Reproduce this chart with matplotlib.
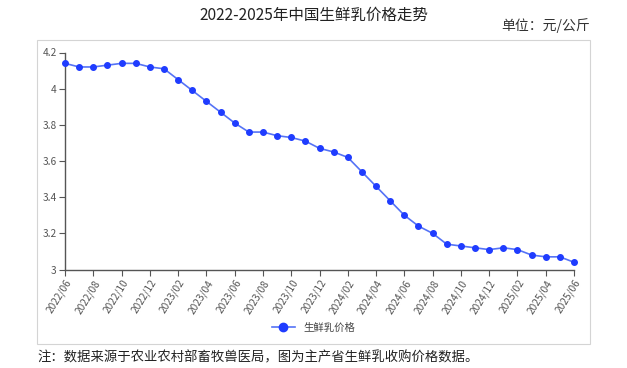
import matplotlib
matplotlib.use('Agg')
import matplotlib.pyplot as plt
from matplotlib.patches import Rectangle
from matplotlib.lines import Line2D

plt.rcParams['font.family'] = ['Noto Sans CJK SC', 'DejaVu Sans']

# Monthly fresh milk price, 2022/06 - 2025/06 (yuan/kg)
months = []
for y in (2022, 2023, 2024, 2025):
    for m in range(1, 13):
        if (y, m) >= (2022, 6) and (y, m) <= (2025, 6):
            months.append('%d/%02d' % (y, m))
prices = [
    4.14, 4.12, 4.12, 4.13, 4.14, 4.14, 4.12, 4.11, 4.05, 3.99,
    3.93, 3.87, 3.81, 3.76, 3.76, 3.74, 3.73, 3.71, 3.67, 3.65,
    3.62, 3.54, 3.46, 3.38, 3.30, 3.24, 3.20, 3.14, 3.13, 3.12,
    3.11, 3.12, 3.11, 3.08, 3.07, 3.07, 3.04,
]
yticks = [3, 3.2, 3.4, 3.6, 3.8, 4, 4.2]
ytick_labels = ['3', '3.2', '3.4', '3.6', '3.8', '4', '4.2']

title = '2022-2025年中国生鲜乳价格走势'
unit = '单位：元/公斤'
series_name = '生鲜乳价格'
note = '注：数据来源于农业农村部畜牧兽医局，图为主产省生鲜乳收购价格数据。'

W, H = 627, 368
fig = plt.figure(figsize=(W / 100, H / 100), dpi=100)

# light grey frame around the chart area
fig.patches.append(Rectangle((37 / W, 1 - 344 / H), (590 - 37) / W,
                             (344 - 40) / H, transform=fig.transFigure,
                             fill=False, edgecolor='#d4d4d4', lw=0.8))

ax = fig.add_axes([65 / W, 1 - 269.5 / H, (574 - 65) / W, (269.5 - 52.5) / H])
x = list(range(len(months)))
ax.plot(x, prices, '-', color='#5573f6', lw=1.2, marker='o', ms=4,
        mfc='#1f3cff', mec='#1f3cff', clip_on=False, zorder=3)

ax.set_xlim(0, len(months) - 1)
ax.set_ylim(3, 4.2)
ax.set_yticks(yticks)
ax.set_yticklabels(ytick_labels)
ax.set_xticks(x[::2])
ax.set_xticklabels(months[::2], rotation=58, ha='right',
                   rotation_mode='anchor')

for s in ('top', 'right'):
    ax.spines[s].set_visible(False)
for s in ('left', 'bottom'):
    ax.spines[s].set_color('#555555')
    ax.spines[s].set_linewidth(1.0)
ax.tick_params(axis='both', colors='#555555', labelcolor='#555555',
               labelsize=7.3, length=4, width=0.8, pad=2)

fig.text(0.5, 1 - 15 / H, title, ha='center', va='center', fontsize=11.2,
         color='#222222')
fig.text(590 / W, 1 - 26 / H, unit, ha='right', va='center', fontsize=10,
         color='#333333')
fig.text(37 / W, 1 - 357 / H, note, ha='left', va='center', fontsize=9.6,
         color='#222222')

handle = Line2D([], [], color='#5573f6', lw=1.2, marker='o', ms=6,
                mfc='#1f3cff', mec='#1f3cff')
fig.legend([handle], [series_name], loc='center',
           bbox_to_anchor=(0.5, 1 - 328 / H), frameon=False, fontsize=7.5,
           handlelength=2.2, labelcolor='#444444')

fig.savefig('out.png', dpi=100)
